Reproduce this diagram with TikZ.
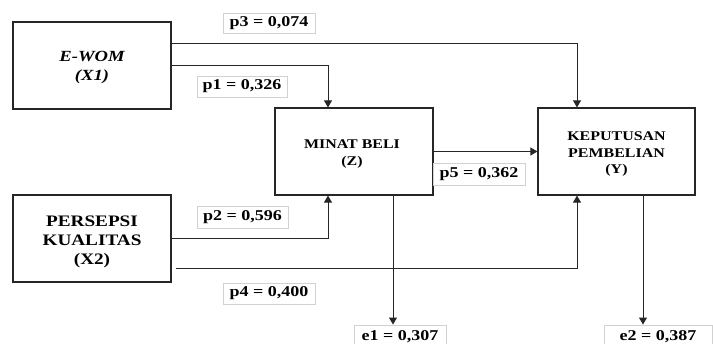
\documentclass[tikz,border=0pt]{standalone}
\usepackage{fontspec}
\setmainfont{Liberation Serif}[FakeStretch=1.2]
\usetikzlibrary{arrows.meta}
\tikzset{
  varbox/.style={draw=black!85, line width=1.2pt, minimum height=87pt, inner sep=0pt},
  vartext/.style={align=center, inner sep=0pt},
  coefbox/.style={draw=black!18, line width=0.9pt, minimum height=21pt, inner sep=0pt, font=\fontsize{15}{17}\selectfont\bfseries},
  arr/.style={draw=black!85, line width=1pt, -{Triangle[width=8pt,length=7pt]}}
}
\begin{document}
\begin{tikzpicture}[x=1pt,y=-1pt]
\useasboundingbox (0,0) rectangle (713,344);
% variable boxes
\node[varbox, minimum width=158pt] (X1) at (92,65.5) {};
\node[varbox, minimum width=158pt] (X2) at (92,238.5) {};
\node[varbox, minimum width=158pt] (Z) at (354,151.5) {};
\node[varbox, minimum width=157pt] (Y) at (616.5,151.5) {};
\node[vartext, font=\fontsize{15.5}{19}\selectfont\bfseries\itshape] (X1t) at ([yshift=-2pt]X1.center) {E-WOM\\(X1)};
\node[vartext, font=\fontsize{16}{19}\selectfont\bfseries] (X2t) at ([yshift=-3pt]X2.center) {PERSEPSI\\KUALITAS\\(X2)};
\node[vartext, font=\fontsize{13.3}{17}\selectfont\bfseries] (Zt) at ([xshift=-2pt,yshift=-3pt]Z.center) {MINAT BELI\\(Z)};
\node[vartext, font=\fontsize{13.3}{16.5}\selectfont\bfseries] (Yt) at ([yshift=-3pt]Y.center) {KEPUTUSAN\\PEMBELIAN\\(Y)};
% coefficient labels
\node[coefbox, minimum width=92pt, minimum height=20pt] (p3) at (269,23) {p3 = 0,074};
\node[coefbox, minimum width=90pt] (p1) at (242,86.5) {p1 = 0,326};
\node[coefbox, minimum width=91pt, minimum height=22pt] (p2) at (242.5,217) {p2 = 0,596};
\node[coefbox, minimum width=92pt] (p4) at (269,293.5) {p4 = 0,400};
\node[coefbox, minimum width=92pt, minimum height=22pt] (p5) at (479,174) {p5 = 0,362};
\node[coefbox, minimum width=92pt, minimum height=23pt] (e1) at (400,336.5) {e1 = 0,307};
\node[coefbox, minimum width=108pt, minimum height=23pt] (e2) at (658,336.5) {e2 = 0,387};
% connectors
\draw[arr] (X1.east |- 0,44) -| ([xshift=-39.5pt]Y.north);
\draw[arr] (X1.east) -| ([xshift=-26pt]Z.north);
\draw[arr] (X2.east |- 0,239) -| ([xshift=-26pt]Z.south);
\draw[arr] ([xshift=4pt]X2.east |- 0,269) -| ([xshift=-39.5pt]Y.south);
\draw[arr] (Z.east) -- (Y.west);
\draw[arr] ([xshift=39pt]Z.south) -- ([xshift=39pt]Z.south |- e1.north);
\draw[arr] ([xshift=26.5pt]Y.south) -- ([xshift=26.5pt]Y.south |- e2.north);
\end{tikzpicture}
\end{document}
